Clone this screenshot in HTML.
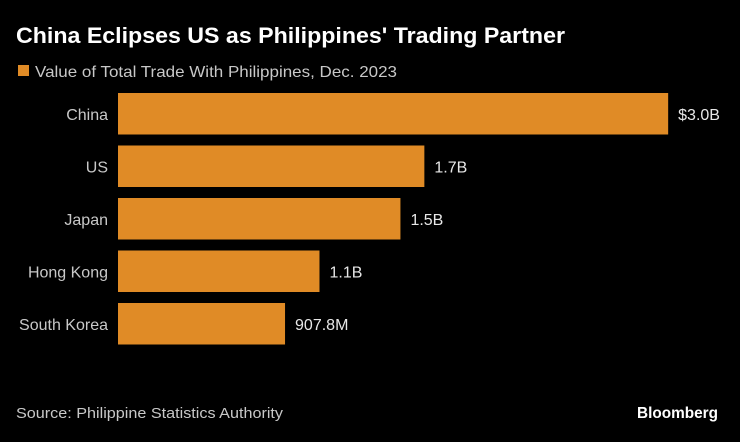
<!DOCTYPE html>
<html><head><meta charset="utf-8">
<style>
html,body{margin:0;padding:0;background:#000;}
body{width:740px;height:437px;overflow:hidden;font-family:"Liberation Sans","DejaVu Sans",sans-serif;}
</style></head>
<body>
<svg id="chart" width="740" height="437" xmlns="http://www.w3.org/2000/svg">
<rect width="740" height="437" fill="#000"/>
<text x="16" y="43" fill="#fff" font-size="22" font-weight="bold" textLength="549" lengthAdjust="spacingAndGlyphs">China Eclipses US as Philippines' Trading Partner</text>
<rect x="18" y="65" width="11" height="11" fill="#E08B26"/>
<text x="35" y="77" fill="#c8c8c8" font-size="16" textLength="362" lengthAdjust="spacingAndGlyphs">Value of Total Trade With Philippines, Dec. 2023</text>
<g id="bars"></g>
<text x="16" y="418" fill="#c8c8c8" font-size="15" textLength="267" lengthAdjust="spacingAndGlyphs">Source: Philippine Statistics Authority</text>
<text x="637" y="418" fill="#fff" font-size="16" font-weight="bold" textLength="81" lengthAdjust="spacingAndGlyphs">Bloomberg</text>
</svg>
<script>
const categories = ["China","US","Japan","Hong Kong","South Korea"];
const values = [2.99, 1.665, 1.535, 1.095, 0.9078];
const valueLabels = ["$3.0B","1.7B","1.5B","1.1B","907.8M"];

const x0 = 118, pxPerUnit = 184;
const top0 = 93, step = 52.5, barH = 41.5;
const xScale = v => v * pxPerUnit;
const g = document.getElementById('bars');
const NS = "http://www.w3.org/2000/svg";
categories.forEach((c, i) => {
  const y = top0 + i * step;
  const w = xScale(values[i]);
  const r = document.createElementNS(NS, 'rect');
  r.setAttribute('x', x0); r.setAttribute('y', y);
  r.setAttribute('width', w); r.setAttribute('height', barH);
  r.setAttribute('fill', '#E08B26');
  
  
  g.appendChild(r);
  const lab = document.createElementNS(NS, 'text');
  lab.setAttribute('x', x0 - 10); lab.setAttribute('y', y + barH/2 + 6);
  lab.setAttribute('fill', '#c8c8c8'); lab.setAttribute('font-size', '16');
  lab.setAttribute('text-anchor', 'end');
  lab.textContent = c;
  
  
  g.appendChild(lab);
  const vl = document.createElementNS(NS, 'text');
  vl.setAttribute('x', x0 + w + 10); vl.setAttribute('y', y + barH/2 + 6);
  vl.setAttribute('fill', '#e8e8e8'); vl.setAttribute('font-size', '16');
  vl.textContent = valueLabels[i];
  
  
  g.appendChild(vl);
});
</script>
</body></html>
